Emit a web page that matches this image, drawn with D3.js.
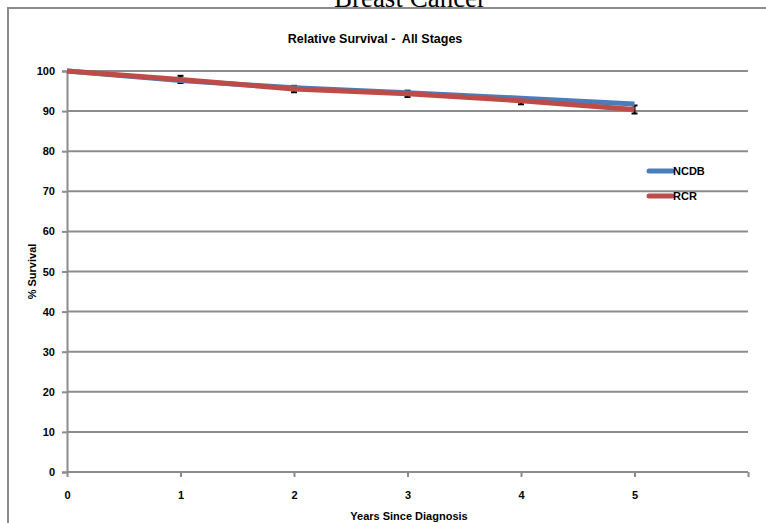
<!DOCTYPE html>
<html>
<head>
<meta charset="utf-8">
<script src="https://cdn.jsdelivr.net/npm/d3@7"></script>
<style>
  body { margin: 0; background: #fff; }
  svg text { font-family: "Liberation Sans", Arial, sans-serif; font-weight: bold; fill: #000; }
</style>
</head>
<body>
<div id="chart"></div>
<script>
// values
const years = [0, 1, 2, 3, 4, 5];
const ncdb = [100, 97.6, 95.8, 94.6, 93.2, 91.8];
const rcr = [100, 97.9, 95.5, 94.3, 92.6, 90.4];
const rcrErr = [0, 0.9, 0.8, 0.8, 0.9, 1.0];
const yTicks = [0, 10, 20, 30, 40, 50, 60, 70, 80, 90, 100];
const xTicks = [0, 1, 2, 3, 4, 5, 6];
const seriesNames = ['NCDB', 'RCR'];

const width = 766, height = 523;
const margin = { left: 67, right: 18, top: 71, bottom: 51 };
const colors = { NCDB: '#4a7ebb', RCR: '#be4b48' };

const svg = d3.select('#chart').append('svg')
  .attr('width', width)
  .attr('height', height);

// outer frame
svg.append('rect')
  .attr('x', 8).attr('y', 8)
  .attr('width', width + 10).attr('height', height + 10)
  .attr('fill', 'none')
  .attr('stroke', '#8c8c8c')
  .attr('stroke-width', 2);

// page title, cut by the top edge as in the original
svg.append('text')
  .attr('x', 410).attr('y', 7)
  .attr('text-anchor', 'middle')
  .style('font-family', '"Liberation Serif", "DejaVu Serif", serif')
  .style('font-weight', 'normal')
  .style('font-size', '27px')
  .text('Breast Cancer');

const x = d3.scaleLinear().domain([0, 6]).range([margin.left, width - margin.right]);
const y = d3.scaleLinear().domain([0, 100]).range([height - margin.bottom, margin.top]);

// gridlines
svg.append('g')
  .selectAll('line')
  .data(yTicks.filter(d => d > 0))
  .join('line')
  .attr('x1', x(0)).attr('x2', x(6))
  .attr('y1', d => y(d)).attr('y2', d => y(d))
  .attr('stroke', '#8c8c8c')
  .attr('stroke-width', 2);

// y axis
const yAxis = svg.append('g')
  .attr('transform', `translate(${x(0)},0)`)
  .call(d3.axisLeft(y).tickValues(yTicks).tickSize(5).tickPadding(7));
yAxis.selectAll('path, line').attr('stroke', '#8c8c8c').attr('stroke-width', 2);
yAxis.selectAll('text').style('font-size', '11px');

// x axis
const xAxis = svg.append('g')
  .attr('transform', `translate(0,${y(0)})`)
  .call(d3.axisBottom(x).tickValues(xTicks).tickSize(5).tickPadding(14)
    .tickFormat(d => d === 6 ? '' : d));
xAxis.selectAll('path, line').attr('stroke', '#8c8c8c').attr('stroke-width', 2);
xAxis.select('.domain').attr('d', `M${x(0)},0H${x(6)}`);
xAxis.selectAll('text').style('font-size', '11px');

// axis titles
svg.append('text')
  .attr('x', 409).attr('y', 520)
  .attr('text-anchor', 'middle')
  .style('font-size', '11px')
  .text('Years Since Diagnosis');

svg.append('text')
  .attr('transform', `translate(36,${y(50)}) rotate(-90)`)
  .attr('text-anchor', 'middle')
  .style('font-size', '11px')
  .text('% Survival');

// chart title
svg.append('text')
  .attr('x', 375).attr('y', 43)
  .attr('text-anchor', 'middle')
  .attr('xml:space', 'preserve')
  .style('white-space', 'pre')
  .style('font-size', '12.5px')
  .text('Relative Survival -  All Stages');

// error bars (RCR)
const errG = svg.append('g').attr('stroke', '#000').attr('stroke-width', 2);
years.forEach((yr, i) => {
  if (!rcrErr[i]) return;
  const cx = x(yr);
  const top = y(rcr[i] + rcrErr[i]), bot = y(rcr[i] - rcrErr[i]);
  errG.append('line').attr('x1', cx).attr('x2', cx).attr('y1', top).attr('y2', bot);
  errG.append('line').attr('x1', cx - 3).attr('x2', cx + 3).attr('y1', top).attr('y2', top);
  errG.append('line').attr('x1', cx - 3).attr('x2', cx + 3).attr('y1', bot).attr('y2', bot);
});

// lines
const line = d3.line().x((d, i) => x(years[i])).y(d => y(d));
[['NCDB', ncdb], ['RCR', rcr]].forEach(([name, vals]) => {
  svg.append('path')
    .datum(vals)
    .attr('d', line)
    .attr('fill', 'none')
    .attr('stroke', colors[name])
    .attr('stroke-width', 5);
});

// legend
const legend = svg.append('g');
seriesNames.forEach((name, i) => {
  const ly = 171 + i * 25;
  legend.append('line')
    .attr('x1', 649).attr('x2', 672)
    .attr('y1', ly).attr('y2', ly)
    .attr('stroke', colors[name])
    .attr('stroke-width', 5)
    .attr('stroke-linecap', 'round');
  legend.append('text')
    .attr('x', 673).attr('y', ly + 4)
    .style('font-size', '11px')
    .text(name);
});
</script>
</body>
</html>
